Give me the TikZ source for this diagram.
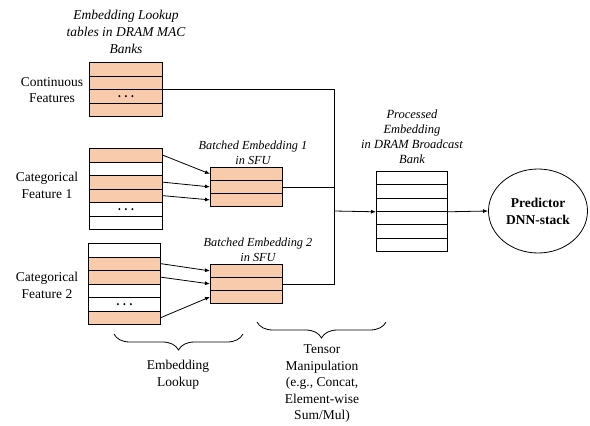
\documentclass[tikz,border=0pt]{standalone}
\usepackage{fontspec}
\setmainfont{Liberation Serif}
\usetikzlibrary{arrows.meta,decorations.pathreplacing,shapes.geometric}

\definecolor{peach}{HTML}{F8CBAD}

\tikzset{
  cell/.style={draw=black, line width=0.8pt, inner sep=0pt, anchor=north west,
               minimum width=#1, minimum height=13.5pt},
  cell/.default=73pt,
  hot/.style={fill=peach},
  cold/.style={fill=white},
  wire/.style={draw=black, line width=0.8pt},
  arr/.style={wire, -{Latex[length=5pt,width=4pt]}},
  lbl/.style={align=center, inner sep=0pt, font=\fontsize{13.5}{16.5}\selectfont},
  ital/.style={align=center, inner sep=0pt, font=\fontsize{12.3}{14.8}\selectfont\itshape},
  curly/.style={wire, decorate, decoration={brace, mirror, amplitude=16pt}}
}

\newcommand{\dotsin}[1]{%
  \foreach \dx in {-6.5,0,6.5} \fill ([xshift=\dx pt]#1.center) circle (1.15pt);}

\begin{document}
\begin{tikzpicture}[x=1pt, y=-1pt]
\useasboundingbox (0,0) rectangle (590,426);

% continuous feature table
\foreach \i in {1,...,4}
  \node[cell, hot] (c\i) at (89, {62+13.5*(\i-1)}) {};
\dotsin{c3}

% categorical feature 1 table
\foreach \i/\s in {1/hot,2/cold,3/hot,4/hot,5/cold,6/cold}
  \node[cell, \s] (k\i) at (89, {148+13.5*(\i-1)}) {};
\dotsin{k5}

% categorical feature 2 table
\foreach \i/\s in {1/cold,2/hot,3/hot,4/cold,5/cold,6/hot}
  \node[cell=72pt, \s] (m\i) at (88, {243+13.5*(\i-1)}) {};
\dotsin{m5}

% batched embeddings in SFU
\foreach \i in {1,2,3} {
  \node[cell=72pt, minimum height=13pt, hot] (ba\i) at (210, {167+13*(\i-1)}) {};
  \node[cell=72pt, minimum height=13pt, hot] (bb\i) at (210, {264+13*(\i-1)}) {};
}

% processed embedding in the broadcast bank
\foreach \i in {1,...,6}
  \node[cell=71pt, minimum height=13.33pt, cold] (p\i) at (376, {171+13.33*(\i-1)}) {};

% predictor
\node[draw, line width=0.8pt, ellipse, minimum width=99pt, minimum height=84pt,
      inner sep=0pt, align=center, font=\fontsize{13.5}{17}\selectfont\bfseries]
  (pred) at (538, 211) {Predictor\\DNN-stack};

% labels
\node[ital, font=\fontsize{13.5}{17}\selectfont\itshape] (tTitle) at (126, 32)
  {Embedding Lookup\\tables in DRAM MAC\\Banks};
\node[lbl] (tCont) at (52, 90) {Continuous\\Features};
\node[lbl] (tCat1) at (47, 185.5) {Categorical\\Feature 1};
\node[lbl] (tCat2) at (47, 285.5) {Categorical\\Feature 2};
\node[ital] (tBa) at (253, 153) {Batched Embedding 1\\in SFU};
\node[ital] (tBb) at (258, 250) {Batched Embedding 2\\in SFU};
\node[ital, font=\fontsize{12.5}{15}\selectfont\itshape] (tProc) at (412, 137)
  {Processed\\Embedding\\in DRAM Broadcast\\Bank};

% lookup arrows
\draw[arr] (k1.east) -- (ba1.west);
\draw[arr] (k3.east) -- (ba2.west);
\draw[arr] (k4.east) -- (ba3.west);
\draw[arr] (m2.east) -- (bb1.west);
\draw[arr] (m3.east) -- (bb2.west);
\draw[arr] (m6.east) -- (bb3.west);

% merging into the broadcast bank
\coordinate (join) at (334, 211);
\draw[wire] (c2.south east) -| (join);
\draw[wire] (ba2.east) -- (ba2.east -| join);
\draw[wire] (bb2.east) -| (join);
\draw[arr] (join) -- (p3.south west);
\draw[arr] (p3.south east) -- (pred.west);

% braces
\coordinate (e1) at (114, 334);
\coordinate (e2) at (243, 334);
\coordinate (t1) at (257, 322);
\coordinate (t2) at (386, 322);
\draw[curly] (e1) -- (e2);
\draw[curly] (t1) -- (t2);
\node[lbl] (tLook) at (178, 374.5) {Embedding\\Lookup};
\node[lbl] (tTens) at (322, 384)
  {Tensor\\Manipulation\\(e.g., Concat,\\Element-wise\\Sum/Mul)};
\end{tikzpicture}
\end{document}
